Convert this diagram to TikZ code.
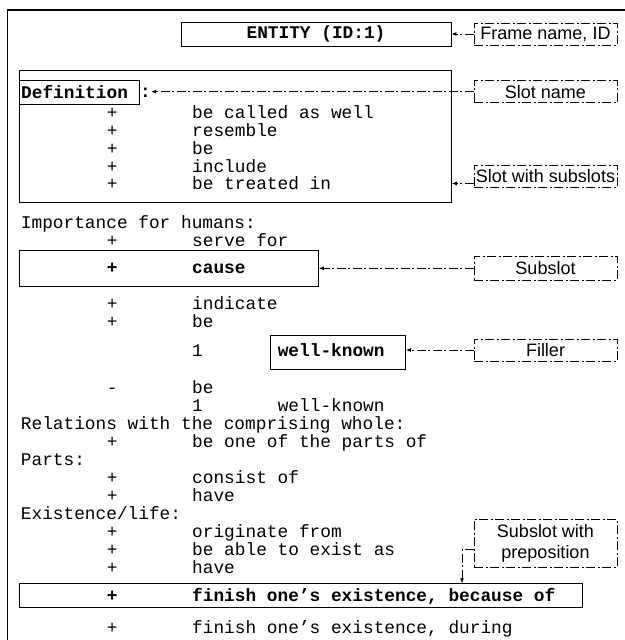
\documentclass[tikz,border=0pt]{standalone}
\usepackage{fontspec}
\setmonofont{Liberation Mono}
\newfontfamily\labelfont{Liberation Sans}
\usetikzlibrary{arrows.meta,positioning}

\begin{document}
\begin{tikzpicture}[x=1pt,y=-1pt,
    every node/.style={inner sep=0pt},
    txt/.style={anchor=base west,font=\fontsize{17.8}{18}\selectfont\ttfamily},
    btxt/.style={anchor=base west,font=\fontsize{17.8}{18}\selectfont\ttfamily\bfseries},
    box/.style={draw,line width=0.9pt},
    lbl/.style={draw,line width=0.9pt,dash pattern=on 9pt off 2.5pt on 2pt off 2.5pt,
                minimum width=143pt,minimum height=22pt,align=center,
                font=\fontsize{18}{21}\selectfont\labelfont},
    conn/.style={line width=0.8pt,dash pattern=on 9pt off 2.5pt on 2pt off 2.5pt,
                 -{Latex[length=5pt,width=4pt]}}]

  \useasboundingbox (0,0) rectangle (624,640);

  % outer frame, cut by the page on the right and at the bottom
  \draw[line width=1.3pt] (7.3,660) |- (640,10);

  % frame name
  \node[box,btxt,anchor=center,minimum width=270pt,minimum height=24pt] at (316,34) (entity) {ENTITY (ID:1)};

  % slot with subslots
  \node[box,anchor=north west,minimum width=431.7pt,minimum height=131.7pt] at (19.3,70) (slot) {};
  \node[box,btxt,anchor=west,minimum height=24pt,inner xsep=1.4pt,text width=117pt] at (19.3,92) (defn) {Definition};
  \node[btxt] at (140,97.2) (colon) {:};
  \node[txt] at (106.7,118.8) (p1)  {+};
  \node[txt] at (192,118.8)   (t1)  {be called as well};
  \node[txt] at (106.7,136.5) (p2)  {+};
  \node[txt] at (192,136.5)   (t2)  {resemble};
  \node[txt] at (106.7,154.3) (p3)  {+};
  \node[txt] at (192,154.3)   (t3)  {be};
  \node[txt] at (106.7,172)   (p4)  {+};
  \node[txt] at (192,172)     (t4)  {include};
  \node[txt] at (106.7,189.8) (p5)  {+};
  \node[txt] at (192,189.8)   (t5)  {be treated in};

  % importance for humans
  \node[txt] at (20.7,228.2)  (imp)   {Importance for humans:};
  \node[txt] at (106.7,246.2) (i1p)   {+};
  \node[txt] at (192,246.2)   (i1)    {serve for};
  \node[box,anchor=north west,minimum width=298.7pt,minimum height=36pt] at (19.3,250) (causebox) {};
  \node[btxt] at (106.7,273.8) (i2p)   {+};
  \node[btxt] at (192,273.8)   (i2)    {cause};
  \node[txt] at (106.7,309.8) (i3p)   {+};
  \node[txt] at (192,309.8)   (i3)    {indicate};
  \node[txt] at (106.7,327.5) (i4p)   {+};
  \node[txt] at (192,327.5)   (i4)    {be};
  \node[box,anchor=north west,minimum width=135pt,minimum height=34pt] at (270,335) (fillbox) {};
  \node[txt] at (192,356.5)   (i4n)   {1};
  \node[btxt] at (277.6,356.5) (i4f)  {well-known};
  \node[txt] at (106.7,393.2) (i5p)   {-};
  \node[txt] at (192,393.2)   (i5)    {be};
  \node[txt] at (192,411)     (i5n)   {1};
  \node[txt] at (277.6,411)   (i5f)   {well-known};

  % relations, parts, existence
  \node[txt] at (20.7,429)    (rel)   {Relations with the comprising whole:};
  \node[txt] at (106.7,447.5) (r1p)   {+};
  \node[txt] at (192,447.5)   (r1)    {be one of the parts of};
  \node[txt] at (20.7,465.5)  (parts) {Parts:};
  \node[txt] at (106.7,483.5) (a1p)   {+};
  \node[txt] at (192,483.5)   (a1)    {consist of};
  \node[txt] at (106.7,501.5) (a2p)   {+};
  \node[txt] at (192,501.5)   (a2)    {have};
  \node[txt] at (20.7,519.5)  (exist) {Existence/life:};
  \node[txt] at (106.7,537.5) (e1p)   {+};
  \node[txt] at (192,537.5)   (e1)    {originate from};
  \node[txt] at (106.7,555.5) (e2p)   {+};
  \node[txt] at (192,555.5)   (able)  {be able to exist as};
  \node[txt] at (106.7,573.5) (e3p)   {+};
  \node[txt] at (192,573.5)   (e3)    {have};
  \node[box,anchor=north west,minimum width=562.7pt,minimum height=24pt] at (19.3,583.3) (finbox) {};
  \node[btxt] at (106.7,601.2) (e4p)   {+};
  \node[btxt] at (192,601.2)   (e4)    {finish one’s existence, because of};
  \node[txt] at (106.7,633.2) (e5p)   {+};
  \node[txt] at (192,633.2)   (e5)    {finish one’s existence, during};

  % legend boxes
  \node[lbl] at (545.5,34)    (lblframe) {Frame name, ID};
  \node[lbl] at (545.5,91.7)  (lblname)  {Slot name};
  \node[lbl] at (545.5,176)   (lblsubs)  {Slot with subslots};
  \node[lbl,minimum height=24pt] at (545.5,268.3) (lblsub) {Subslot};
  \node[lbl] at (545.5,350)   (lblfill)  {Filler};
  \node[lbl,minimum height=48pt] at (545.5,543) (lblprep) {Subslot with\\preposition};
  \coordinate (prepdrop) at (462,583.3);

  \draw[conn] (lblframe.west) -- (entity.east);
  \draw[conn] (lblname.west) -- (lblname.west -| colon.east);
  \draw[conn] (lblsubs.west |- t5) -- (slot.east |- t5);
  \draw[conn] (lblsub.west) -- (lblsub.west -| causebox.east);
  \draw[conn] (lblfill.west) -- (lblfill.west -| fillbox.east);
  \draw[conn] (lblprep.west |- able) -| (prepdrop);

\end{tikzpicture}
\end{document}
